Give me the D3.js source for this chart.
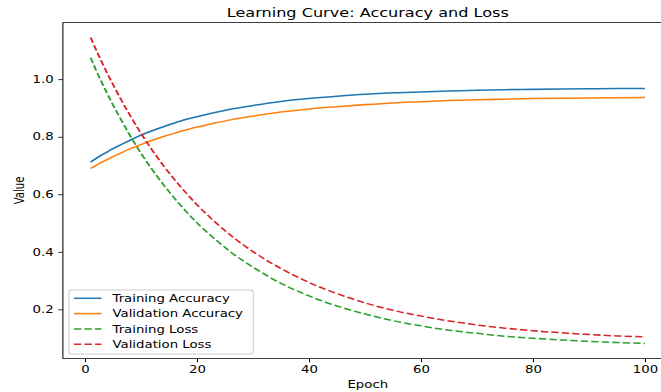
<!DOCTYPE html>
<html>
<head>
<meta charset="utf-8">
<script src="https://cdn.jsdelivr.net/npm/d3@7/dist/d3.min.js"></script>
<style>
  html, body { margin: 0; padding: 0; background: #fff; }
  svg { display: block; }
  text { font-family: "DejaVu Sans", sans-serif; fill: #000; }
</style>
</head>
<body>
<svg id="chart"></svg>
<script>
// ---- data ----
const epochs = [1,2,3,4,5,6,8,10,12,14,16,18,20,23,26,30,35,40,45,50,55,60,65,70,75,80,85,90,95,100];
const trainAcc = [0.712,0.725,0.737,0.748,0.759,0.769,0.788,0.806,0.821,0.835,0.848,0.860,0.870,0.884,0.896,0.909,0.923,0.933,0.941,0.948,0.953,0.956,0.959,0.962,0.964,0.965,0.966,0.967,0.968,0.968];
const valAcc   = [0.690,0.701,0.712,0.722,0.731,0.740,0.758,0.773,0.788,0.801,0.813,0.824,0.834,0.847,0.859,0.872,0.886,0.897,0.905,0.912,0.918,0.922,0.926,0.929,0.931,0.933,0.934,0.935,0.936,0.937];
const trainLoss= [1.075,1.031,0.989,0.949,0.911,0.875,0.806,0.743,0.686,0.634,0.586,0.542,0.501,0.448,0.400,0.347,0.291,0.247,0.212,0.184,0.161,0.143,0.128,0.117,0.107,0.100,0.094,0.089,0.085,0.082];
const valLoss  = [1.145,1.102,1.060,1.020,0.982,0.945,0.876,0.812,0.754,0.700,0.651,0.606,0.564,0.508,0.458,0.401,0.342,0.294,0.255,0.223,0.197,0.177,0.160,0.146,0.135,0.126,0.119,0.113,0.108,0.105];
const seriesNames = ["Training Accuracy","Validation Accuracy","Training Loss","Validation Loss"];
const seriesColors = ["#1f77b4","#ff7f0e","#2ca02c","#d62728"];
const seriesDashed = [false,false,true,true];
const xTicks = [0,20,40,60,80,100];
const yTicks = [0.2,0.4,0.6,0.8,1.0];
const titleText = "Learning Curve: Accuracy and Loss";
const xLabel = "Epoch";
const yLabel = "Value";

// ---- layout ----
const W = 661, H = 392;
const KY = 0.76;            // reference is squeezed vertically
const VH = H / KY;
const svg = d3.select("#chart")
  .attr("width", W).attr("height", H)
  .attr("viewBox", `0 0 ${W} ${VH}`)
  .attr("preserveAspectRatio", "none");

const pLeft = 62.9, pRight = 672.7, pTop = 22.3 / KY, pBottom = 358.7 / KY;
const FS = 13.3;

const series = [trainAcc, valAcc, trainLoss, valLoss];
const allVals = series.flat();
const yMin = d3.min(allVals), yMax = d3.max(allVals);
const yPad = (yMax - yMin) * 0.05;
const xMin = d3.min(epochs), xMax = d3.max(epochs);
const xPad = (xMax - xMin) * 0.05;

const x = d3.scaleLinear().domain([xMin - xPad, xMax + xPad]).range([pLeft, pRight]);
const y = d3.scaleLinear().domain([yMin - yPad, yMax + yPad]).range([pBottom, pTop]);

// lines
const line = d3.line().x(d => x(d[0])).y(d => y(d[1])).curve(d3.curveMonotoneX);
series.forEach((vals, i) => {
  svg.append("path")
    .datum(epochs.map((e, j) => [e, vals[j]]))
    .attr("d", line)
    .attr("fill", "none")
    .attr("stroke", seriesColors[i])
    .attr("stroke-width", 2)
    .attr("stroke-dasharray", seriesDashed[i] ? "7.3,3.2" : null);
});

// spines
const spine = svg.append("g").attr("stroke", "#000").attr("stroke-width", 1.05).attr("fill", "none");
spine.append("line").attr("x1", pLeft).attr("x2", pLeft).attr("y1", pTop).attr("y2", pBottom);
spine.append("line").attr("x1", pLeft).attr("x2", pRight).attr("y1", pBottom).attr("y2", pBottom);
spine.append("line").attr("x1", pLeft).attr("x2", pRight).attr("y1", pTop).attr("y2", pTop);
spine.append("line").attr("x1", pRight).attr("x2", pRight).attr("y1", pTop).attr("y2", pBottom);

// axes
const xAxis = d3.axisBottom(x).tickValues(xTicks).tickFormat(d3.format("d")).tickSize(4.6).tickPadding(4.6);
const yAxis = d3.axisLeft(y).tickValues(yTicks).tickFormat(d3.format(".1f")).tickSize(4.6).tickPadding(4.6);
const gx = svg.append("g").attr("transform", `translate(0,${pBottom})`).call(xAxis);
const gy = svg.append("g").attr("transform", `translate(${pLeft},0)`).call(yAxis);
[gx, gy].forEach(g => {
  g.select(".domain").remove();
  g.selectAll(".tick line").attr("stroke", "#000").attr("stroke-width", 1.05);
  g.selectAll(".tick text").attr("font-size", FS).attr("font-family", "DejaVu Sans").attr("fill", "#000");
});

// title and labels
svg.append("text").attr("x", (pLeft + pRight) / 2).attr("y", 16.9 / KY)
  .attr("text-anchor", "middle").attr("font-size", 16.1).text(titleText);
svg.append("text").attr("x", (pLeft + pRight) / 2).attr("y", 388 / KY)
  .attr("text-anchor", "middle").attr("font-size", FS).text(xLabel);
svg.append("text").attr("transform", `translate(23.5,${(pTop + pBottom) / 2}) rotate(-90)`)
  .attr("text-anchor", "middle").attr("font-size", FS).text(yLabel);

// legend
const lg = svg.append("g");
lg.append("rect").attr("x", 69).attr("y", 290 / KY).attr("width", 184.3).attr("height", 64 / KY)
  .attr("rx", 2.6).attr("ry", 2.6)
  .attr("fill", "#fff").attr("fill-opacity", 0.8).attr("stroke", "#cccccc").attr("stroke-width", 1.05);
const rowCenters = [298.3, 313.6, 328.9, 344.2].map(v => v / KY);
seriesNames.forEach((name, i) => {
  const cy = rowCenters[i];
  lg.append("line").attr("x1", 74).attr("x2", 101.5).attr("y1", cy).attr("y2", cy)
    .attr("stroke", seriesColors[i]).attr("stroke-width", 2)
    .attr("stroke-dasharray", seriesDashed[i] ? "7.3,3.2" : null);
  lg.append("text").attr("x", 112.5).attr("y", cy + FS * 0.36)
    .attr("font-size", FS).text(name);
});
</script>
</body>
</html>
